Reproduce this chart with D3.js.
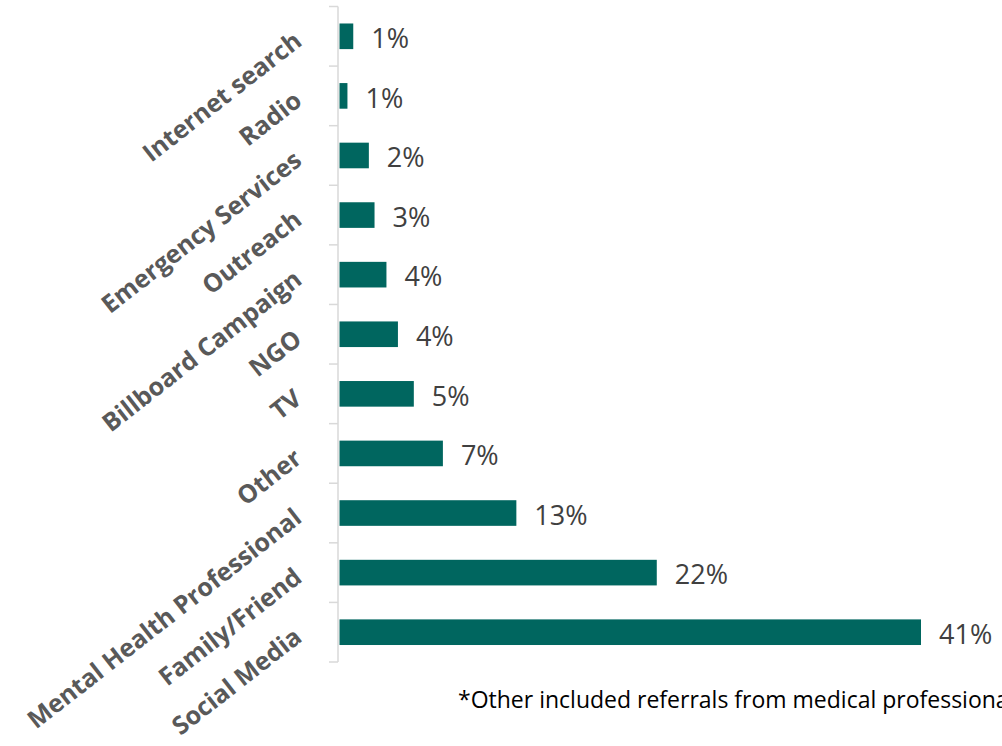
<!DOCTYPE html>
<html>
<head>
<meta charset="utf-8">
<script src="https://cdn.jsdelivr.net/npm/d3@7"></script>
<style>
  html, body { margin: 0; padding: 0; background: #fff; }
  svg { display: block; }
</style>
</head>
<body>
<div id="chart"></div>
<script>
// Data (top to bottom)
const categories = ["Internet search", "Radio", "Emergency Services", "Outreach", "Billboard Campaign", "NGO", "TV", "Other", "Mental Health Professional", "Family/Friend", "Social Media"];
const values = [0.97, 0.56, 2.07, 2.47, 3.31, 4.12, 5.24, 7.29, 12.47, 22.37, 41];
const valueLabels = ["1%", "1%", "2%", "3%", "4%", "4%", "5%", "7%", "13%", "22%", "41%"];
const footnote = "*Other included referrals from medical professionals";

const W = 1002, H = 746;
const svg = d3.select("#chart").append("svg").attr("width", W).attr("height", H);

const y = d3.scaleBand().domain(categories).range([6.5, 662]).paddingInner(0.57).paddingOuter(0.285);
const x = d3.scaleLinear().domain([0, 41]).range([339.5, 921]);

const axisX = 338;
// axis line
svg.append("line").attr("x1", axisX).attr("x2", axisX).attr("y1", y.range()[0]).attr("y2", y.range()[1])
  .attr("stroke", "#d9d9d9").attr("stroke-width", 1.5);
// ticks at band boundaries
const step = y.step();
const boundaries = d3.range(categories.length + 1).map(i => y.range()[0] + i * step);
svg.selectAll("line.tick").data(boundaries).enter().append("line")
  .attr("x1", axisX - 9).attr("x2", axisX).attr("y1", d => d).attr("y2", d => d)
  .attr("stroke", "#d9d9d9").attr("stroke-width", 1.5);

// bars
svg.selectAll("rect.bar").data(categories).enter().append("rect")
  .attr("x", x(0)).attr("y", d => y(d)).attr("height", y.bandwidth())
  .attr("width", (d, i) => x(values[i]) - x(0))
  .attr("fill", "#00665f");

// value labels
svg.selectAll("text.val").data(categories).enter().append("text")
  .attr("x", (d, i) => x(values[i]) + 18)
  .attr("y", d => y(d) + y.bandwidth() / 2 + 2)
  .attr("dy", "0.36em")
  .attr("font-family", "'Open Sans', sans-serif").attr("font-size", 27)
  .attr("fill", "#404040")
  .text((d, i) => valueLabels[i]);

// category labels
svg.selectAll("text.cat").data(categories).enter().append("text")
  .attr("transform", d => `translate(298, ${y(d) + y.bandwidth() / 2 + 1}) rotate(-38)`)
  .attr("text-anchor", "end")
  .attr("dy", "0.35em")
  .attr("font-family", "'Open Sans', sans-serif").attr("font-weight", "bold").attr("font-size", 25)
  .attr("fill", "#595959")
  .text(d => d);

// footnote
svg.append("text").attr("x", 458).attr("y", 708)
  .attr("font-family", "'Open Sans', sans-serif").attr("font-size", 23)
  .attr("fill", "#000")
  .text(footnote);
</script>
</body>
</html>
